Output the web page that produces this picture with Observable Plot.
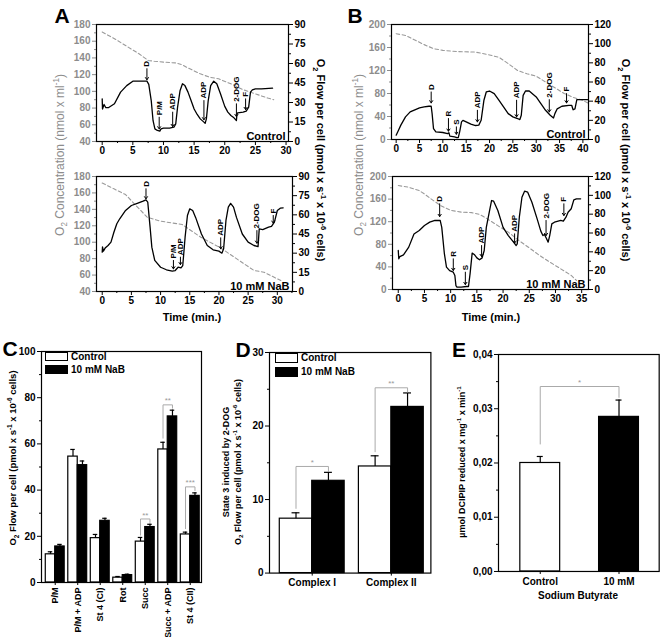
<!DOCTYPE html>
<html><head><meta charset="utf-8">
<script src="https://cdn.jsdelivr.net/npm/d3@7"></script>
<script src="https://cdn.jsdelivr.net/npm/@observablehq/plot@0.6"></script>
<style>
body{margin:0;background:#fff;}
#root{position:relative;width:662px;height:637px;overflow:hidden;font-family:"Liberation Sans",Arial,sans-serif;background:#fff;}
sup,sub{font-size:0.68em;line-height:0;}
</style></head><body><div id="root"></div>
<script>
// ---------------- DATA ----------------
const series = ["Control", "10 mM NaB"];
const seriesFill = ["white", "black"];

// Panel A (top) – Control
const aCtrlConcT = [0, 2, 4, 6, 7.5, 8.5, 10, 12, 13, 14, 16, 17.5, 19, 21, 23, 25, 27, 28];
const aCtrlConc  = [171, 163, 154, 145, 137, 136, 135, 134, 132, 128, 121, 117, 115, 109, 102, 97, 92, 90];
const aCtrlT    = [0, 0.05, 0.3, 0.6, 1, 2, 3, 4, 5, 6, 7.3, 7.6, 8, 8.3, 8.6, 9, 9.4, 9.6, 10, 11, 11.7, 12.0, 12.3, 12.7, 13.1, 13.5, 14, 14.5, 15, 15.5, 16, 16.6, 16.8, 17.0, 17.3, 17.7, 18.2, 18.7, 19.3, 20, 20.5, 21, 21.5, 21.9, 22.0, 22.1, 23, 23.5, 23.9, 24.2, 24.5, 25, 26, 27.8];
const aCtrlFlow = [32.8, 25, 28.5, 26, 26, 29, 38, 43, 46.4, 46.4, 46.4, 44, 31.5, 16, 9.7, 8.5, 8, 9.7, 10.3, 10.3, 11, 13.6, 26.4, 39, 44.4, 43, 38, 31.5, 25, 20.8, 17.4, 14.9, 14, 17.4, 31.5, 43, 46.4, 44.4, 36.7, 27, 22.6, 20, 18.2, 16.2, 21.3, 22, 22.6, 23.3, 26.4, 38, 39.7, 40.5, 40.5, 41];
const aCtrlEvT     = [7.3, 9.3, 11.5, 16.6, 21.9, 23.4];
const aCtrlEvTip   = [47.5, 9.7, 11.5, 16.7, 19.2, 24.6];
const aCtrlEvTail  = [56, 18.7, 22.6, 31.5, 29, 32.8];
const aCtrlEvLabel = ["D", "P/M", "ADP", "ADP", "2-DOG", "F"];

// Panel A (bottom) – 10 mM NaB
const aNaBConcT = [0, 2, 4, 6, 7.7, 10, 13.7, 16.9, 20.3, 23, 26, 27.7, 30.6];
const aNaBConc  = [172, 165, 158, 143, 130.5, 125.6, 121.6, 106, 93, 80, 65.6, 63.5, 53.4];
const aNaBT    = [0, 0.05, 0.2, 0.5, 1, 1.5, 2, 2.5, 3, 4, 5, 6, 7, 7.5, 7.8, 8.2, 8.5, 9, 10, 11, 12, 12.5, 13, 13.5, 13.8, 14.2, 14.6, 15, 15.5, 16, 17, 18, 19, 20, 20.5, 20.8, 21.2, 21.6, 22, 22.5, 23, 24, 25, 26, 26.7, 26.9, 27.5, 28.5, 29, 29.5, 30, 30.5, 31];
const aNaBFlow = [30.8, 35, 31.6, 34, 36, 38.6, 46.4, 53, 56.9, 63.4, 67.3, 69, 70.7, 71.7, 70, 50.4, 34.7, 24.3, 19, 17, 16, 16.4, 19, 18.5, 20.3, 42.5, 59.5, 64.7, 63.4, 58, 45, 36, 32.6, 31.6, 30, 33.4, 55.6, 66, 69, 66, 58, 45, 38.6, 36, 35.2, 49, 48.5, 50.4, 50.9, 54.3, 63.4, 65.2, 65.5];
const aNaBEvT     = [7.5, 12.2, 13.4, 20.3, 26.5, 29.3];
const aNaBEvTip   = [72.5, 17.7, 21.1, 33.4, 37.8, 53.5];
const aNaBEvTail  = [80.4, 24.3, 26.9, 42, 47.7, 59.5];
const aNaBEvLabel = ["D", "P/M", "ADP", "ADP", "2-DOG", "F"];

// Panel B (top) – Control
const bCtrlConcT = [0, 2, 4, 6, 8, 10, 13, 17, 20, 22, 24, 26, 28, 30, 32, 34, 36, 38, 40, 41.2];
const bCtrlConc  = [184, 181, 173, 165, 158, 155, 153, 152, 147, 143, 132, 120, 114.5, 110, 100, 90, 80, 73, 68, 63];
const bCtrlT    = [0, 0.5, 1, 2, 3, 4, 5, 6, 7, 7.5, 7.7, 8, 8.5, 10, 11, 11.3, 11.5, 12.5, 13, 13.3, 13.6, 14, 14.3, 15, 16, 17, 17.7, 18.2, 18.8, 19.3, 20, 21, 22, 23, 24, 25, 26, 26.5, 26.8, 27.2, 27.7, 28.5, 30, 31, 32, 33, 33.7, 34, 34.5, 35.5, 37, 37.6, 37.9, 38.3, 38.7, 39.5, 41];
const bCtrlFlow = [4.5, 9.7, 15, 23.6, 28.8, 31, 33, 34, 34.7, 34.7, 27, 11.4, 8, 7.3, 6.2, 7, 3.5, 2.8, 2, 2, 8, 18.4, 20, 18.4, 16, 14.6, 15, 20, 41, 49.6, 50.6, 47.9, 41, 34, 27, 23.6, 21.9, 20.8, 25.3, 46, 50.6, 50.6, 44.4, 37.5, 30.5, 25.3, 22.5, 27, 32, 34.7, 35.7, 35.7, 31, 32, 41.6, 41.6, 41.6];
const bCtrlEvT     = [7.5, 11.2, 12.9, 17.4, 25.8, 32.8, 36.5];
const bCtrlEvTip   = [38.2, 8.7, 5.5, 18.4, 23.6, 28.8, 38.2];
const bCtrlEvTail  = [49.6, 21.9, 13.2, 30.5, 41, 41.6, 47.9];
const bCtrlEvLabel = ["D", "R", "S", "ADP", "ADP", "2-DOG", "F"];

// Panel B (bottom) – 10 mM NaB
const bNaBConcT = [0, 2, 4, 5, 6, 8, 10, 12, 14, 15.5, 17, 19, 21, 23, 25, 27, 29, 31, 33, 34];
const bNaBConc  = [184, 181, 175, 169, 162, 149, 140, 137, 136, 133, 125, 113, 101.5, 86.7, 73.7, 60, 48, 36.6, 25, 16];
const bNaBT    = [0, 0.1, 0.3, 1, 2, 3, 4, 5, 6, 7, 8, 8.3, 8.8, 9.2, 9.8, 10.5, 10.8, 11, 11.2, 12, 13, 13.4, 13.7, 14.1, 14.5, 15, 15.5, 16, 16.4, 16.8, 17.3, 17.8, 18.2, 19, 20, 21, 22, 22.5, 22.7, 23.1, 23.6, 24.1, 24.7, 25.5, 26.5, 27.2, 27.6, 27.9, 28.3, 28.6, 28.9, 29.3, 29.8, 30.5, 31, 31.5, 32, 32.4, 33, 33.5, 34, 34.8];
const bNaBFlow = [41.4, 32.6, 35, 36.8, 45, 59, 62.7, 68, 71.5, 73.3, 73.3, 66, 38, 23.7, 20, 18.4, 14.9, 4.2, 2.5, 2.5, 3.2, 3.2, 16.6, 38.6, 37.2, 33.6, 31.5, 33.6, 41.4, 66, 80.4, 94.5, 93.8, 83.9, 66, 57.3, 50.3, 46.7, 48.5, 76.8, 98, 104.4, 103.4, 92.7, 75, 62, 57.3, 58.4, 53.8, 50.3, 57.3, 69.7, 71.5, 72.6, 73.3, 72.6, 76.8, 82, 85.7, 95.2, 96.3, 96.3];
const bNaBEvT     = [7.9, 10.5, 12.8, 15.9, 22.2, 28.2, 31.6];
const bNaBEvTip   = [77.5, 20.2, 5.3, 35, 49.2, 57.3, 78.6];
const bNaBEvTail  = [91, 32.6, 18.4, 46.7, 59.1, 73.3, 91];
const bNaBEvLabel = ["D", "R", "S", "ADP", "ADP", "2-DOG", "F"];

// Panel C
const cCats    = ["P/M", "P/M + ADP", "St 4 (CI)", "Rot", "Succ", "Succ + ADP", "St 4 (CII)"];
const cCtrl    = [12.2, 54.5, 19.2, 2.1, 17.7, 57.6, 20.8];
const cCtrlErr = [13.3, 57.6, 20.8, 2.6, 19.5, 60.7, 21.8];
const cNaB     = [15.6, 50.8, 26.7, 3.2, 24.0, 71.9, 37.5];
const cNaBErr  = [16.5, 52.6, 27.8, 3.6, 25.2, 74.6, 38.8];
const cSigCat   = ["Succ", "Succ + ADP", "St 4 (CII)"];
const cSigTop   = [27.5, 76.9, 41.4];
const cSigLeft  = [20.5, 62.5, 23.3];
const cSigRight = [26, 75.5, 39.8];
const cSigLabel = ["**", "**", "***"];

// Panel D
const dCats    = ["Complex I", "Complex II"];
const dCtrl    = [7.4, 14.5];
const dCtrlErr = [8.2, 15.95];
const dNaB     = [12.55, 22.6];
const dNaBErr  = [13.7, 24.5];
const dSigCat   = ["Complex I", "Complex II"];
const dSigTop   = [14.5, 25.2];
const dSigLeft  = [8.8, 16.5];
const dSigRight = [13.9, 24.6];
const dSigLabel = ["*", "**"];

// Panel E
const eCats  = ["Control", "10 mM"];
const eVal   = [0.0200, 0.0285];
const eErr   = [0.0212, 0.0316];
const eSigTop = 0.0341, eSigLeft = 0.0235, eSigRight = 0.0321, eSigLabel = "*";

// ---------------- DRAWING ----------------
const FONT = '"Liberation Sans", Arial, sans-serif';
const GRAY = "#8c8c8c";
const root = document.getElementById("root");
function place(el, left, top) {
  el.style.position = "absolute"; el.style.left = left + "px"; el.style.top = top + "px";
  root.append(el);
}
function html(content, cx, cy, deg, style) {
  const d = document.createElement("div");
  d.innerHTML = content;
  Object.assign(d.style, {position: "absolute", left: cx + "px", top: cy + "px", whiteSpace: "nowrap",
    transform: `translate(-50%,-50%) rotate(${deg}deg)`, lineHeight: "1", fontFamily: FONT}, style || {});
  root.append(d);
}
function zip(ts, vs) { return ts.map((t, i) => ({t, v: vs[i]})); }
const range = (a, b, s) => d3.range(a, b + s / 2, s);

function tracePanel(p) {
  const ML = 40, MR = 40, MT = 12, MB = 22;
  const [x0, x1, y0, y1] = p.frame;
  const width = x1 - x0 + ML + MR, height = y1 - y0 + MT + MB;
  const common = {width, height, marginLeft: ML, marginRight: MR, marginTop: MT, marginBottom: MB,
    style: {fontFamily: FONT, fontSize: "10px", background: "transparent", overflow: "visible"}};
  const ev = p.evT.map((t, i) => ({t, tip: p.evTip[i], tail: p.evTail[i], label: p.evLabel[i]}));
  const concPlot = Plot.plot({...common,
    x: {domain: p.xDomain, axis: null},
    y: {domain: p.concDomain},
    marks: [
      Plot.axisY({anchor: "left", ticks: p.concTicks, tickSize: 4, tickPadding: 2, label: null, color: GRAY, fontWeight: "bold"}),
      Plot.axisY({anchor: "left", ticks: p.concMinor, tickSize: 2, tickFormat: () => "", label: null, color: GRAY}),
      Plot.line(zip(p.concT, p.conc), {x: "t", y: "v", stroke: "#9a9a9a", strokeWidth: 1.1, strokeDasharray: "3.5,2.5"})
    ]});
  const flowPlot = Plot.plot({...common,
    x: {domain: p.xDomain},
    y: {domain: p.flowDomain},
    marks: [
      Plot.frame({stroke: "black", strokeWidth: 1.2}),
      Plot.axisY({anchor: "right", ticks: p.flowTicks, tickSize: 4, tickPadding: 2, label: null, fontWeight: "bold"}),
      Plot.axisY({anchor: "right", ticks: p.flowMinor, tickSize: 2, tickFormat: () => "", label: null}),
      Plot.axisX({ticks: p.xTicks, tickSize: 4, tickPadding: 1, label: null, fontWeight: "bold"}),
      Plot.axisX({ticks: p.xMinor, tickSize: 2, tickFormat: () => "", label: null}),
      Plot.line(zip(p.flowT, p.flow), {x: "t", y: "v", stroke: "black", strokeWidth: 1.3}),
      Plot.arrow(ev, {x1: "t", x2: "t", y1: "tail", y2: "tip", headLength: 4, headAngle: 70, strokeWidth: 1, stroke: "black"}),
      Plot.text(ev, {x: "t", y: "tail", text: "label", rotate: -90, textAnchor: "start", dy: -2, fontSize: 8, fontWeight: "bold"}),
      Plot.text([p.tag], {frameAnchor: "bottom-right", text: d => d, dx: -3, dy: -2, lineAnchor: "bottom", textAnchor: "end", fontSize: 11, fontWeight: "bold"})
    ]});
  place(concPlot, x0 - ML, y0 - MT);
  place(flowPlot, x0 - ML, y0 - MT);
}

tracePanel({frame: [96, 288, 24, 141], xDomain: [-0.93, 30.4], xTicks: range(0, 30, 5), xMinor: range(2.5, 27.5, 5),
  concDomain: [40, 180], concTicks: range(40, 180, 20), concMinor: range(50, 170, 20),
  flowDomain: [0, 90], flowTicks: range(0, 90, 15), flowMinor: range(7.5, 82.5, 15),
  concT: aCtrlConcT, conc: aCtrlConc, flowT: aCtrlT, flow: aCtrlFlow,
  evT: aCtrlEvT, evTip: aCtrlEvTip, evTail: aCtrlEvTail, evLabel: aCtrlEvLabel, tag: series[0]});
tracePanel({frame: [96, 292, 176, 291], xDomain: [-0.98, 32.6], xTicks: range(0, 30, 5), xMinor: range(2.5, 32.5, 5),
  concDomain: [40, 180], concTicks: range(40, 180, 20), concMinor: range(50, 170, 20),
  flowDomain: [0, 90], flowTicks: range(0, 90, 15), flowMinor: range(7.5, 82.5, 15),
  concT: aNaBConcT, conc: aNaBConc, flowT: aNaBT, flow: aNaBFlow,
  evT: aNaBEvT, evTip: aNaBEvTip, evTail: aNaBEvTail, evLabel: aNaBEvLabel, tag: series[1]});
tracePanel({frame: [391, 588, 24, 139], xDomain: [-1.0, 41.2], xTicks: range(0, 40, 5), xMinor: range(2.5, 37.5, 5),
  concDomain: [0, 200], concTicks: range(0, 200, 40), concMinor: range(20, 180, 40),
  flowDomain: [0, 120], flowTicks: range(0, 120, 20), flowMinor: range(10, 110, 20),
  concT: bCtrlConcT, conc: bCtrlConc, flowT: bCtrlT, flow: bCtrlFlow,
  evT: bCtrlEvT, evTip: bCtrlEvTip, evTail: bCtrlEvTail, evLabel: bCtrlEvLabel, tag: series[0]});
tracePanel({frame: [392, 588, 176, 289], xDomain: [-1.1, 36.3], xTicks: range(0, 35, 5), xMinor: range(2.5, 32.5, 5),
  concDomain: [0, 200], concTicks: range(0, 200, 40), concMinor: range(20, 180, 40),
  flowDomain: [0, 120], flowTicks: range(0, 120, 20), flowMinor: range(10, 110, 20),
  concT: bNaBConcT, conc: bNaBConc, flowT: bNaBT, flow: bNaBFlow,
  evT: bNaBEvT, evTip: bNaBEvTip, evTail: bNaBEvTail, evLabel: bNaBEvLabel, tag: series[1]});

function barPanel(p) {
  const [x0, x1, y0, y1] = p.frame;
  const {ML, MR, MT, MB} = p.m;
  const h = p.half, cap = p.cap;
  const rows = p.cats.map((c, i) => ({i, a: p.ctrl[i], ae: p.ctrlErr[i], b: p.trt[i], be: p.trtErr[i]}));
  const sig = p.sigCat.map((c, k) => ({i: p.cats.indexOf(c), top: p.sigTop[k], l: p.sigL[k], r: p.sigR[k], label: p.sigLabel[k]}));
  const path = sig.flatMap((s, k) => [
    {k, x: s.i - h / 2, y: s.l}, {k, x: s.i - h / 2, y: s.top}, {k, x: s.i + h / 2, y: s.top}, {k, x: s.i + h / 2, y: s.r}]);
  const plot = Plot.plot({
    width: x1 - x0 + ML + MR, height: y1 - y0 + MT + MB,
    marginLeft: ML, marginRight: MR, marginTop: MT, marginBottom: MB,
    style: {fontFamily: FONT, fontSize: "10px", background: "transparent", overflow: "visible"},
    x: {domain: p.xDomain}, y: {domain: p.yDomain},
    marks: [
      Plot.rectY(rows, {x1: d => d.i - h, x2: d => d.i, y1: 0, y2: "a", fill: seriesFill[0], stroke: "black", strokeWidth: 1.2}),
      Plot.rectY(rows, {x1: d => d.i, x2: d => d.i + h, y1: 0, y2: "b", fill: seriesFill[1], stroke: "black", strokeWidth: 1.2}),
      Plot.ruleX(rows, {x: d => d.i - h / 2, y1: "a", y2: "ae", strokeWidth: 1.2}),
      Plot.ruleY(rows, {y: "ae", x1: d => d.i - h / 2 - cap, x2: d => d.i - h / 2 + cap, strokeWidth: 1.2}),
      Plot.ruleX(rows, {x: d => d.i + h / 2, y1: "b", y2: "be", strokeWidth: 1.2}),
      Plot.ruleY(rows, {y: "be", x1: d => d.i + h / 2 - cap, x2: d => d.i + h / 2 + cap, strokeWidth: 1.2}),
      Plot.line(path, {x: "x", y: "y", z: "k", stroke: "#aaa", strokeWidth: 1}),
      Plot.text(sig, {x: "i", y: "top", text: "label", dy: -4, fill: "#999", fontSize: 8}),
      Plot.frame({stroke: "black", strokeWidth: 1.2}),
      Plot.axisY({ticks: p.yTicks, tickSize: 4, tickPadding: 2, tickFormat: p.yFormat, label: null, fontWeight: "bold"}),
      Plot.axisY({ticks: p.yMinor, tickSize: 2, tickFormat: () => "", label: null}),
      Plot.axisX({ticks: rows.map(d => d.i), tickFormat: i => p.cats[i], tickRotate: p.rot, tickSize: 3, tickPadding: p.xPad,
        label: null, fontWeight: "bold", fontSize: p.xFont})
    ]});
  place(plot, x0 - ML, y0 - MT);
}

barPanel({frame: [41, 201, 350.7, 581.7], m: {ML: 35, MR: 5, MT: 8, MB: 56},
  xDomain: [-0.61, 6.5], yDomain: [0, 100], yTicks: range(0, 100, 20), yMinor: range(10, 90, 20), yFormat: d => d,
  cats: cCats, ctrl: cCtrl, ctrlErr: cCtrlErr, trt: cNaB, trtErr: cNaBErr, half: 0.42, cap: 0.1, rot: -90, xFont: 9, xPad: 2,
  sigCat: cSigCat, sigTop: cSigTop, sigL: cSigLeft, sigR: cSigRight, sigLabel: cSigLabel});
barPanel({frame: [269.3, 430.7, 351.7, 572.3], m: {ML: 30, MR: 5, MT: 8, MB: 30},
  xDomain: [-0.54, 1.5], yDomain: [0, 30], yTicks: range(0, 30, 10), yMinor: range(5, 25, 10), yFormat: d => d,
  cats: dCats, ctrl: dCtrl, ctrlErr: dCtrlErr, trt: dNaB, trtErr: dNaBErr, half: 0.41, cap: 0.05, rot: 0, xFont: 10, xPad: 3,
  sigCat: dSigCat, sigTop: dSigTop, sigL: dSigLeft, sigR: dSigRight, sigLabel: dSigLabel});

// Panel E
(function () {
  const x0 = 498.3, x1 = 659, y0 = 354, y1 = 571, ML = 35, MR = 3, MT = 8, MB = 30;
  const rows = eCats.map((c, i) => ({i, v: eVal[i], e: eErr[i], fill: seriesFill[i]}));
  const hw = 0.253, cap = 0.038;
  const path = [{x: 0, y: eSigLeft}, {x: 0, y: eSigTop}, {x: 1, y: eSigTop}, {x: 1, y: eSigRight}];
  const plot = Plot.plot({
    width: x1 - x0 + ML + MR, height: y1 - y0 + MT + MB,
    marginLeft: ML, marginRight: MR, marginTop: MT, marginBottom: MB,
    style: {fontFamily: FONT, fontSize: "10px", background: "transparent", overflow: "visible"},
    x: {domain: [-0.53, 1.51]}, y: {domain: [0, 0.04]},
    marks: [
      Plot.rectY(rows, {x1: d => d.i - hw, x2: d => d.i + hw, y1: 0, y2: "v", fill: d => d.fill, stroke: "black", strokeWidth: 1.2}),
      Plot.ruleX(rows, {x: "i", y1: "v", y2: "e", strokeWidth: 1.2}),
      Plot.ruleY(rows, {y: "e", x1: d => d.i - cap, x2: d => d.i + cap, strokeWidth: 1.2}),
      Plot.line(path, {x: "x", y: "y", stroke: "#aaa", strokeWidth: 1}),
      Plot.text([eSigLabel], {x: 0.5, y: eSigTop, text: d => d, dy: -4, fill: "#999", fontSize: 8}),
      Plot.frame({stroke: "black", strokeWidth: 1.2}),
      Plot.axisY({ticks: range(0, 0.04, 0.01), tickSize: 4, tickPadding: 2, tickFormat: d => d.toFixed(2).replace(".", ","), label: null, fontWeight: "bold"}),
      Plot.axisY({ticks: range(0.005, 0.035, 0.01), tickSize: 2, tickFormat: () => "", label: null}),
      Plot.axisX({ticks: [0, 1], tickFormat: i => eCats[i], tickSize: 3, tickPadding: 3, label: null, fontWeight: "bold"})
    ]});
  place(plot, x0 - ML, y0 - MT);
})();

// Legends (C and D)
function legend(x, y, gap, w, h, fs) {
  series.forEach((s, k) => {
    const r = document.createElement("div");
    Object.assign(r.style, {position: "absolute", left: x + "px", top: (y + k * gap) + "px", width: (w - 2) + "px", height: (h - 2) + "px",
      border: "1.2px solid black", background: seriesFill[k]});
    root.append(r);
    const t = document.createElement("div");
    t.textContent = s;
    Object.assign(t.style, {position: "absolute", left: (x + w + 3) + "px", top: (y + k * gap + h / 2) + "px", transform: "translateY(-50%)",
      fontFamily: FONT, fontWeight: "bold", fontSize: fs + "px", lineHeight: "1", whiteSpace: "nowrap"});
    root.append(t);
  });
}
legend(45, 352, 13, 23, 9, 10);
legend(275, 353, 14, 23, 10, 10);

// Axis titles
const flowTitle = 'O<sub>2</sub> Flow per cell (pmol x s<sup>-1</sup> x 10<sup>-6</sup> cells)';
const concTitle = 'O<sub>2</sub> Concentration (nmol x ml<sup>-1</sup>)';
html(concTitle, 60, 155, -90, {color: GRAY, fontSize: "12px"});
html(flowTitle, 320, 160, 90, {fontWeight: "bold", fontSize: "11px"});
html(concTitle, 359, 155, -90, {color: GRAY, fontSize: "12px"});
html(flowTitle, 625, 160, 90, {fontWeight: "bold", fontSize: "11px"});
html("Time (min.)", 192, 317, 0, {fontWeight: "bold", fontSize: "11px"});
html("Time (min.)", 491, 317, 0, {fontWeight: "bold", fontSize: "11px"});
html(flowTitle, 13, 458, -90, {fontWeight: "bold", fontSize: "9.5px"});
html("State 3 induced by 2-DOG", 226, 462, -90, {fontWeight: "bold", fontSize: "9px"});
html(flowTitle, 238, 462, -90, {fontWeight: "bold", fontSize: "9px"});
html('µmol DCIPIP reduced x mg<sup>-1</sup> x min<sup>-1</sup>', 462, 462, -90, {fontWeight: "bold", fontSize: "9px"});
html("Sodium Butyrate", 578, 596, 0, {fontWeight: "bold", fontSize: "10px"});

// Panel letters
[["A", 62, 15], ["B", 355, 15], ["C", 10, 348], ["D", 243, 349], ["E", 459, 349]].forEach(([l, x, y]) =>
  html(l, x, y, 0, {fontWeight: "bold", fontSize: "21px"}));
</script></body></html>
